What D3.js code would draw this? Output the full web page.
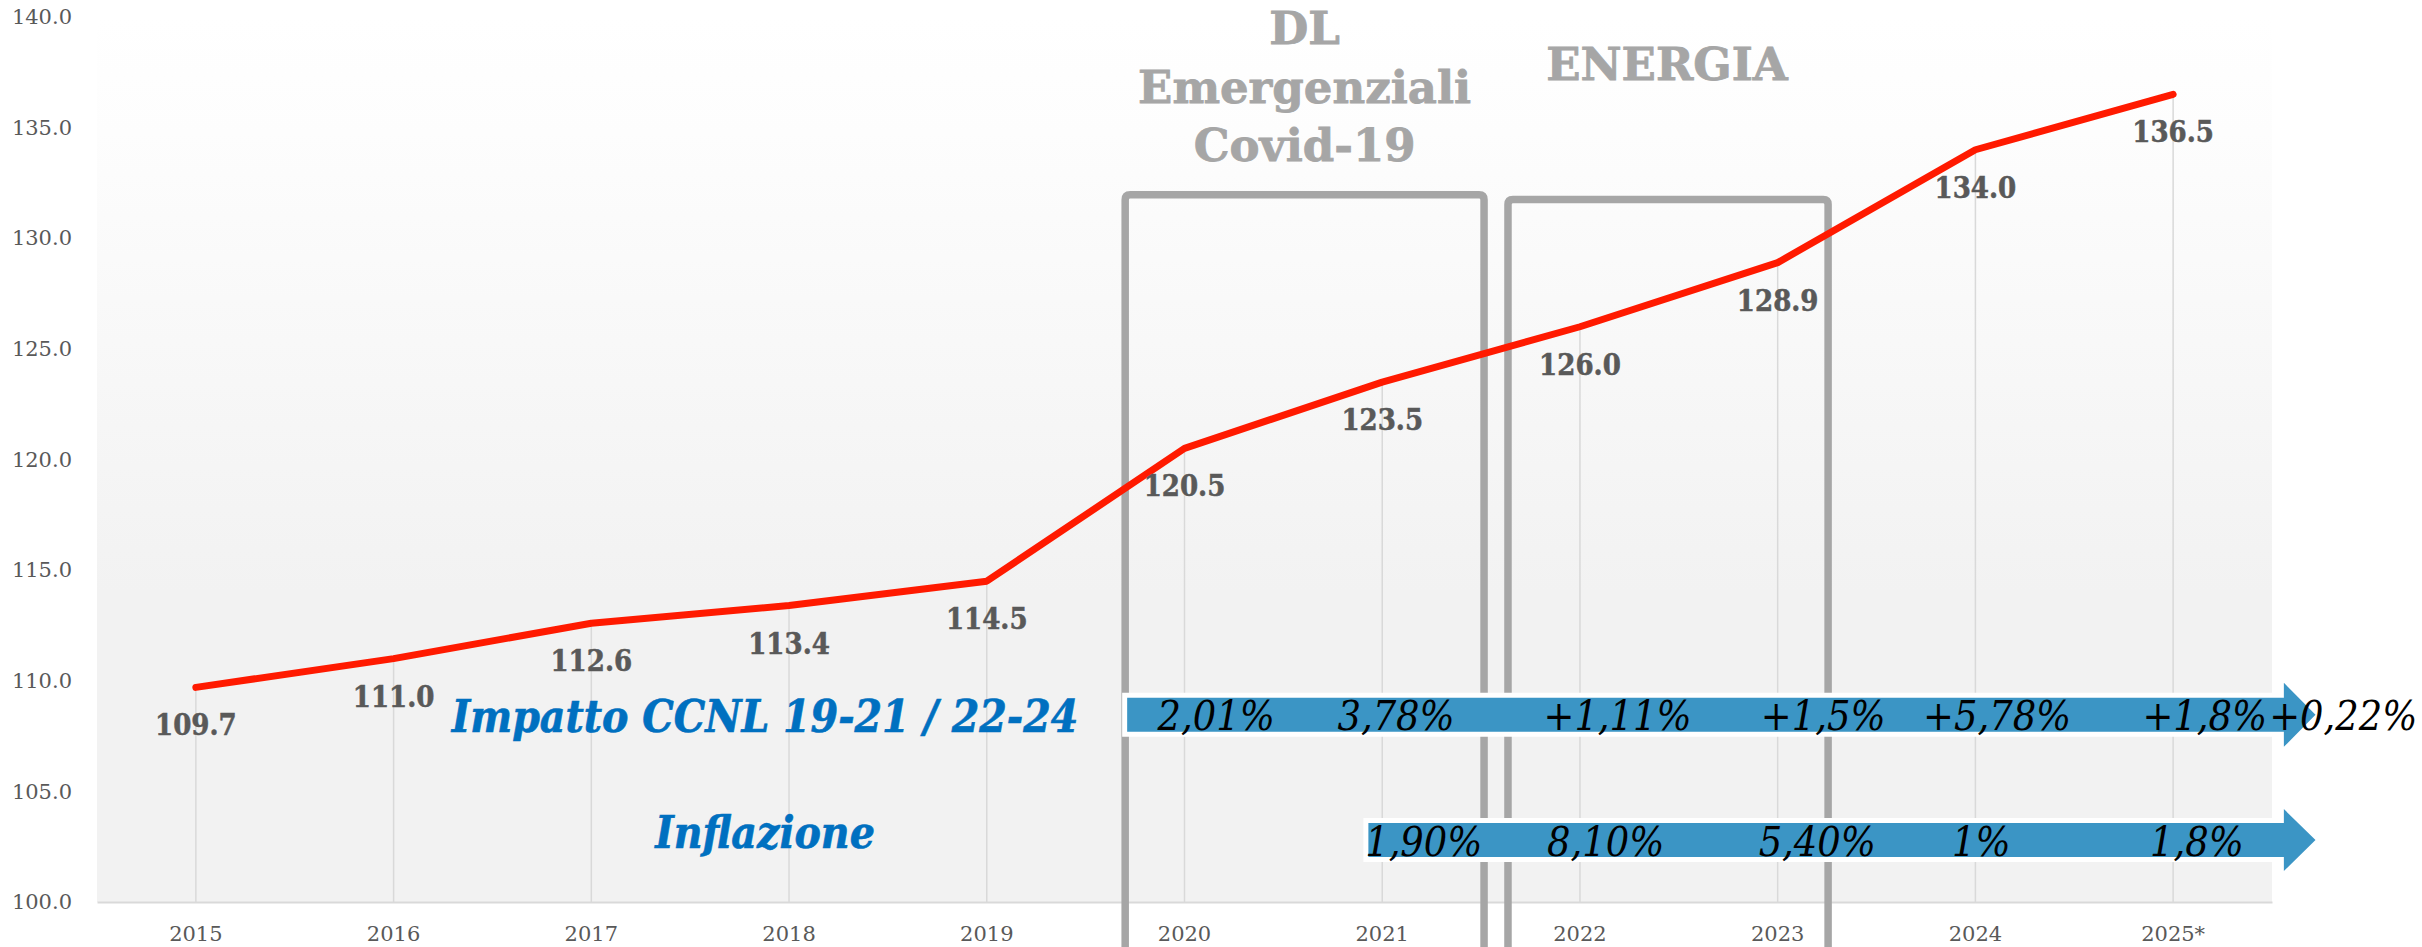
<!DOCTYPE html>
<html>
<head>
<meta charset="utf-8">
<script src="https://cdn.jsdelivr.net/npm/d3@7"></script>
<style>
  html, body { margin: 0; padding: 0; background: #ffffff; }
  svg { display: block; }
  .serif { font-family: "DejaVu Serif", serif; }
  .cond { font-family: "DejaVu Serif Condensed", "DejaVu Serif", serif; font-stretch: condensed; }
</style>
</head>
<body>
<svg id="chart" width="2422" height="947"></svg>
<script>
// ---------------- DATA ----------------
const categories = ["2015", "2016", "2017", "2018", "2019", "2020", "2021", "2022", "2023", "2024", "2025*"];
const values = [109.7, 111.0, 112.6, 113.4, 114.5, 120.5, 123.5, 126.0, 128.9, 134.0, 136.5];
const yTicks = [100, 105, 110, 115, 120, 125, 130, 135, 140];

const ccnlLabels = ["2,01%", "3,78%", "+1,11%", "+1,5%", "+5,78%", "+1,8%", "+0,22%"];
const inflLabels = ["1,90%", "8,10%", "5,40%", "1%", "1,8%"];
const rowTitles = ["Impatto CCNL 19-21 / 22-24", "Inflazione"];
const covidTitle = ["DL", "Emergenziali", "Covid-19"];
const energyTitle = ["ENERGIA"];

(function () {
// ---------------- LAYOUT ----------------
const W = 2422, H = 947;
const pLeft = 97, pRight = 2272, pTop = 17, pBottom = 902;

const svg = d3.select("#chart");

const x = d3.scaleBand().domain(categories).range([pLeft, pRight]).padding(0);
const bw = x.bandwidth();
const cx = c => x(c) + bw / 2;
// position along the year axis in fractional category units
const pos = d3.scaleLinear().domain([0, categories.length - 1])
  .range([cx(categories[0]), cx(categories[categories.length - 1])]);
const y = d3.scaleLinear().domain([100, 140]).range([pBottom, pTop]);

// annotation anchors (in category units)
const ccnlPos = [5.16, 6.07, 7.19, 8.23, 9.11, 10.16, 10.86];
const inflPos = [6.21, 7.13, 8.20, 9.03, 10.12];

// background gradient
const defs = svg.append("defs");
const grad = defs.append("linearGradient").attr("id", "bg")
  .attr("x1", 0).attr("y1", 0).attr("x2", 0).attr("y2", 1);
grad.append("stop").attr("offset", "0").attr("stop-color", "#ffffff");
grad.append("stop").attr("offset", "0.13").attr("stop-color", "#fdfdfd");
grad.append("stop").attr("offset", "0.65").attr("stop-color", "#f2f2f2");
grad.append("stop").attr("offset", "1").attr("stop-color", "#f2f2f2");

svg.append("rect")
  .attr("x", pLeft).attr("y", pTop)
  .attr("width", pRight - pLeft).attr("height", pBottom - pTop)
  .attr("fill", "url(#bg)");

// drop lines
svg.append("g").selectAll("line").data(values).join("line")
  .attr("x1", (d, i) => cx(categories[i])).attr("x2", (d, i) => cx(categories[i]))
  .attr("y1", d => y(d)).attr("y2", pBottom)
  .attr("stroke", "#d9d9d9").attr("stroke-width", 1.5);

// axes
const xAxis = svg.append("g")
  .attr("transform", `translate(0,${pBottom})`)
  .call(d3.axisBottom(x).tickSize(0).tickSizeOuter(0).tickPadding(24));
xAxis.select(".domain").attr("stroke", "#d9d9d9").attr("stroke-width", 2);
xAxis.selectAll("text")
  .attr("class", "serif").attr("font-size", 21).attr("fill", "#595959");

const yAxis = svg.append("g")
  .attr("transform", `translate(80,0)`)
  .call(d3.axisLeft(y).tickValues(yTicks).tickFormat(d3.format(".1f")).tickSize(0).tickPadding(8));
yAxis.select(".domain").remove();
yAxis.selectAll("text")
  .attr("class", "serif").attr("font-size", 21).attr("fill", "#595959");

// boxes (open at bottom)
const boxes = [
  { x0: 4.70, x1: 6.515, top: 131.97 },
  { x0: 6.636, x1: 8.255, top: 131.75 }
];
const r = 5;
svg.append("g").selectAll("path").data(boxes).join("path")
  .attr("d", b => {
    const X0 = pos(b.x0), X1 = pos(b.x1), T = y(b.top), B = H + 20;
    return `M${X0},${B} L${X0},${T + r} Q${X0},${T} ${X0 + r},${T} L${X1 - r},${T} Q${X1},${T} ${X1},${T + r} L${X1},${B}`;
  })
  .attr("fill", "none").attr("stroke", "#a6a6a6").attr("stroke-width", 7.5);

// box titles
const titleG = svg.append("g").attr("class", "serif")
  .attr("font-weight", "bold").attr("fill", "#a6a6a6").attr("font-size", 45).attr("text-anchor", "middle")
  .attr("stroke", "#a6a6a6").attr("stroke-width", 0.8);
titleG.selectAll("text.cov").data(covidTitle).join("text").attr("class", "cov")
  .attr("x", pos((boxes[0].x0 + boxes[0].x1) / 2))
  .attr("y", (d, i) => 44 + i * 58.5)
  .text(d => d);
titleG.selectAll("text.en").data(energyTitle).join("text").attr("class", "en")
  .attr("x", pos(7.44))
  .attr("y", 80)
  .text(d => d);

// red line
svg.append("path")
  .datum(values)
  .attr("d", d3.line().x((d, i) => cx(categories[i])).y(d => y(d)))
  .attr("fill", "none").attr("stroke", "#ff1a00").attr("stroke-width", 7)
  .attr("stroke-linecap", "round").attr("stroke-linejoin", "round");

// data labels
svg.append("g").selectAll("text").data(values).join("text")
  .attr("class", "cond")
  .attr("x", (d, i) => cx(categories[i]))
  .attr("y", d => y(d) + 48)
  .attr("text-anchor", "middle")
  .attr("font-size", 29).attr("font-weight", "bold").attr("fill", "#595959")
  .attr("stroke", "#595959").attr("stroke-width", 0.5)
  .text(d => d3.format(".1f")(d));

// arrows
const arrows = [
  { x0: 4.71, xb: 10.56, xt: 10.72, v: 108.46, half: 17, head: 32 },
  { x0: 5.93, xb: 10.56, xt: 10.72, v: 102.8, half: 17, head: 31 }
];
svg.append("g").selectAll("path").data(arrows).join("path")
  .attr("d", a => {
    const X0 = pos(a.x0), XB = pos(a.xb), XT = pos(a.xt), C = y(a.v);
    return `M${X0},${C - a.half} L${XB},${C - a.half} L${XB},${C - a.head} L${XT},${C} L${XB},${C + a.head} L${XB},${C + a.half} L${X0},${C + a.half} Z`;
  })
  .attr("fill", "#3b95c5").attr("stroke", "#ffffff").attr("stroke-width", 10)
  .attr("paint-order", "stroke fill").attr("stroke-linejoin", "miter");

// arrow labels
const pctG = svg.append("g").attr("class", "cond")
  .attr("font-style", "italic").attr("font-size", 41).attr("fill", "#000000").attr("text-anchor", "middle");
pctG.selectAll("text.c").data(ccnlLabels).join("text").attr("class", "c")
  .attr("x", (d, i) => pos(ccnlPos[i])).attr("y", 730).text(d => d);
pctG.selectAll("text.i").data(inflLabels).join("text").attr("class", "i")
  .attr("x", (d, i) => pos(inflPos[i])).attr("y", 856).text(d => d);

// row titles
svg.append("g").attr("class", "cond")
  .attr("font-style", "italic").attr("font-weight", "bold").attr("font-size", 44)
  .attr("fill", "#0070c0").attr("text-anchor", "middle")
  .attr("stroke", "#0070c0").attr("stroke-width", 0.6)
  .selectAll("text").data(rowTitles).join("text")
  .attr("x", 765).attr("y", (d, i) => i === 0 ? 732 : 848)
  .text(d => d);
})();
</script>
</body>
</html>
